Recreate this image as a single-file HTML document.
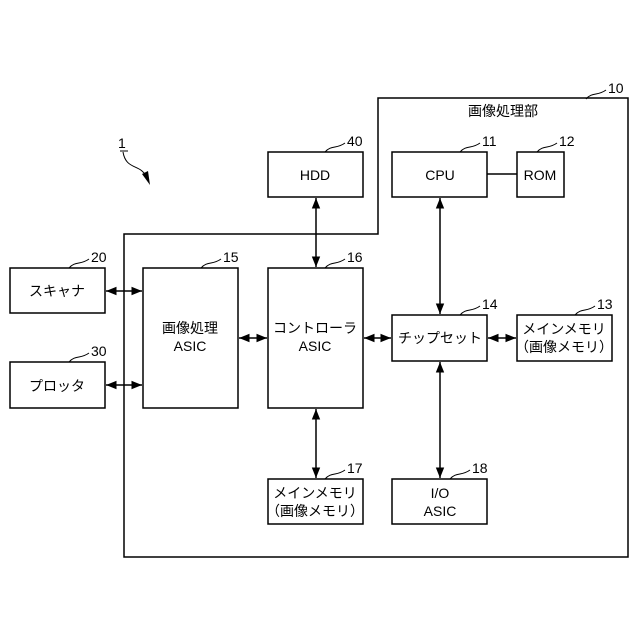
<!DOCTYPE html>
<html><head><meta charset="utf-8">
<style>
html,body{margin:0;padding:0;background:#fff;}
svg{display:block;}
text{font-family:"Liberation Sans","Noto Sans CJK JP",sans-serif;fill:#000;}
</style></head>
<body>
<svg width="640" height="640" viewBox="0 0 640 640" xmlns="http://www.w3.org/2000/svg">
<defs>
<marker id="a" viewBox="0 0 10 10" refX="10" refY="5" markerWidth="7" markerHeight="7" orient="auto-start-reverse">
<path d="M0,1 L10,5 L0,9 Z" fill="#000"/></marker>
</defs>
<g fill="none" stroke="#000" stroke-width="1.5">
<path d="M378,98 H628 V557 H124 V234 H378 Z"/>
<rect x="268" y="152" width="95" height="45"/>
<rect x="392" y="152" width="95" height="45"/>
<rect x="517" y="152" width="47" height="45"/>
<rect x="10" y="268" width="95" height="45"/>
<rect x="10" y="362" width="95" height="46"/>
<rect x="143" y="268" width="95" height="140"/>
<rect x="268" y="268" width="95" height="140"/>
<rect x="392" y="315" width="95" height="46"/>
<rect x="517" y="315" width="95" height="46"/>
<rect x="268" y="479" width="95" height="45"/>
<rect x="392" y="479" width="95" height="45"/>
<line x1="487" y1="174" x2="517" y2="174"/>
<g marker-start="url(#a)" marker-end="url(#a)">
<line x1="106" y1="291" x2="142" y2="291"/>
<line x1="106" y1="385" x2="142" y2="385"/>
<line x1="239" y1="338" x2="267" y2="338"/>
<line x1="364" y1="338" x2="391" y2="338"/>
<line x1="488" y1="338" x2="516" y2="338"/>
<line x1="316" y1="198" x2="316" y2="267"/>
<line x1="440" y1="198" x2="440" y2="314"/>
<line x1="316" y1="409" x2="316" y2="478"/>
<line x1="440" y1="362" x2="440" y2="478"/>
</g>
</g>
<!-- leaders -->
<g fill="none" stroke="#000" stroke-width="1">
<path d="M586,99 C592,92 598,96 606,90"/>
<path d="M460,152 C466,145 472,149 480,143"/>
<path d="M537,152 C543,145 549,149 557,143"/>
<path d="M325,152 C331,145 337,149 345,143"/>
<path d="M69,268 C75,261 81,265 89,259"/>
<path d="M69,362 C75,355 81,359 89,353"/>
<path d="M201,268 C207,261 213,265 221,259"/>
<path d="M325,268 C331,261 337,265 345,259"/>
<path d="M460,315 C466,308 472,312 480,306"/>
<path d="M575,315 C581,308 587,312 595,306"/>
<path d="M325,479 C331,472 337,476 345,470"/>
<path d="M450,479 C456,472 462,476 470,470"/>
<path d="M120,151 H128"/>
<path d="M123,152 C126,170 140,164 146,176"/>
</g>
<path d="M142,174 L150,185 L148,171 Z" fill="#000"/>
<g font-size="14">
<text x="608" y="93">10</text>
<text x="482" y="146">11</text>
<text x="559" y="146">12</text>
<text x="347" y="146">40</text>
<text x="91" y="262">20</text>
<text x="91" y="356">30</text>
<text x="223" y="262">15</text>
<text x="347" y="262">16</text>
<text x="482" y="309">14</text>
<text x="597" y="309">13</text>
<text x="347" y="473">17</text>
<text x="472" y="473">18</text>
<text x="118" y="148">1</text>
</g>
<g font-size="14" text-anchor="middle">
<text x="503" y="116">画像処理部</text>
<text x="315" y="180">HDD</text>
<text x="440" y="180">CPU</text>
<text x="540" y="180">ROM</text>
<text x="57" y="296">スキャナ</text>
<text x="57" y="391">プロッタ</text>
<text x="190" y="333">画像処理</text>
<text x="190" y="351">ASIC</text>
<text x="315" y="333">コントローラ</text>
<text x="315" y="351">ASIC</text>
<text x="440" y="343">チップセット</text>
<text x="564" y="334">メインメモリ</text>
<text x="564" y="352">（画像メモリ）</text>
<text x="315" y="498">メインメモリ</text>
<text x="315" y="516">（画像メモリ）</text>
<text x="440" y="498">I/O</text>
<text x="440" y="516">ASIC</text>
</g>
</svg>
</body></html>
